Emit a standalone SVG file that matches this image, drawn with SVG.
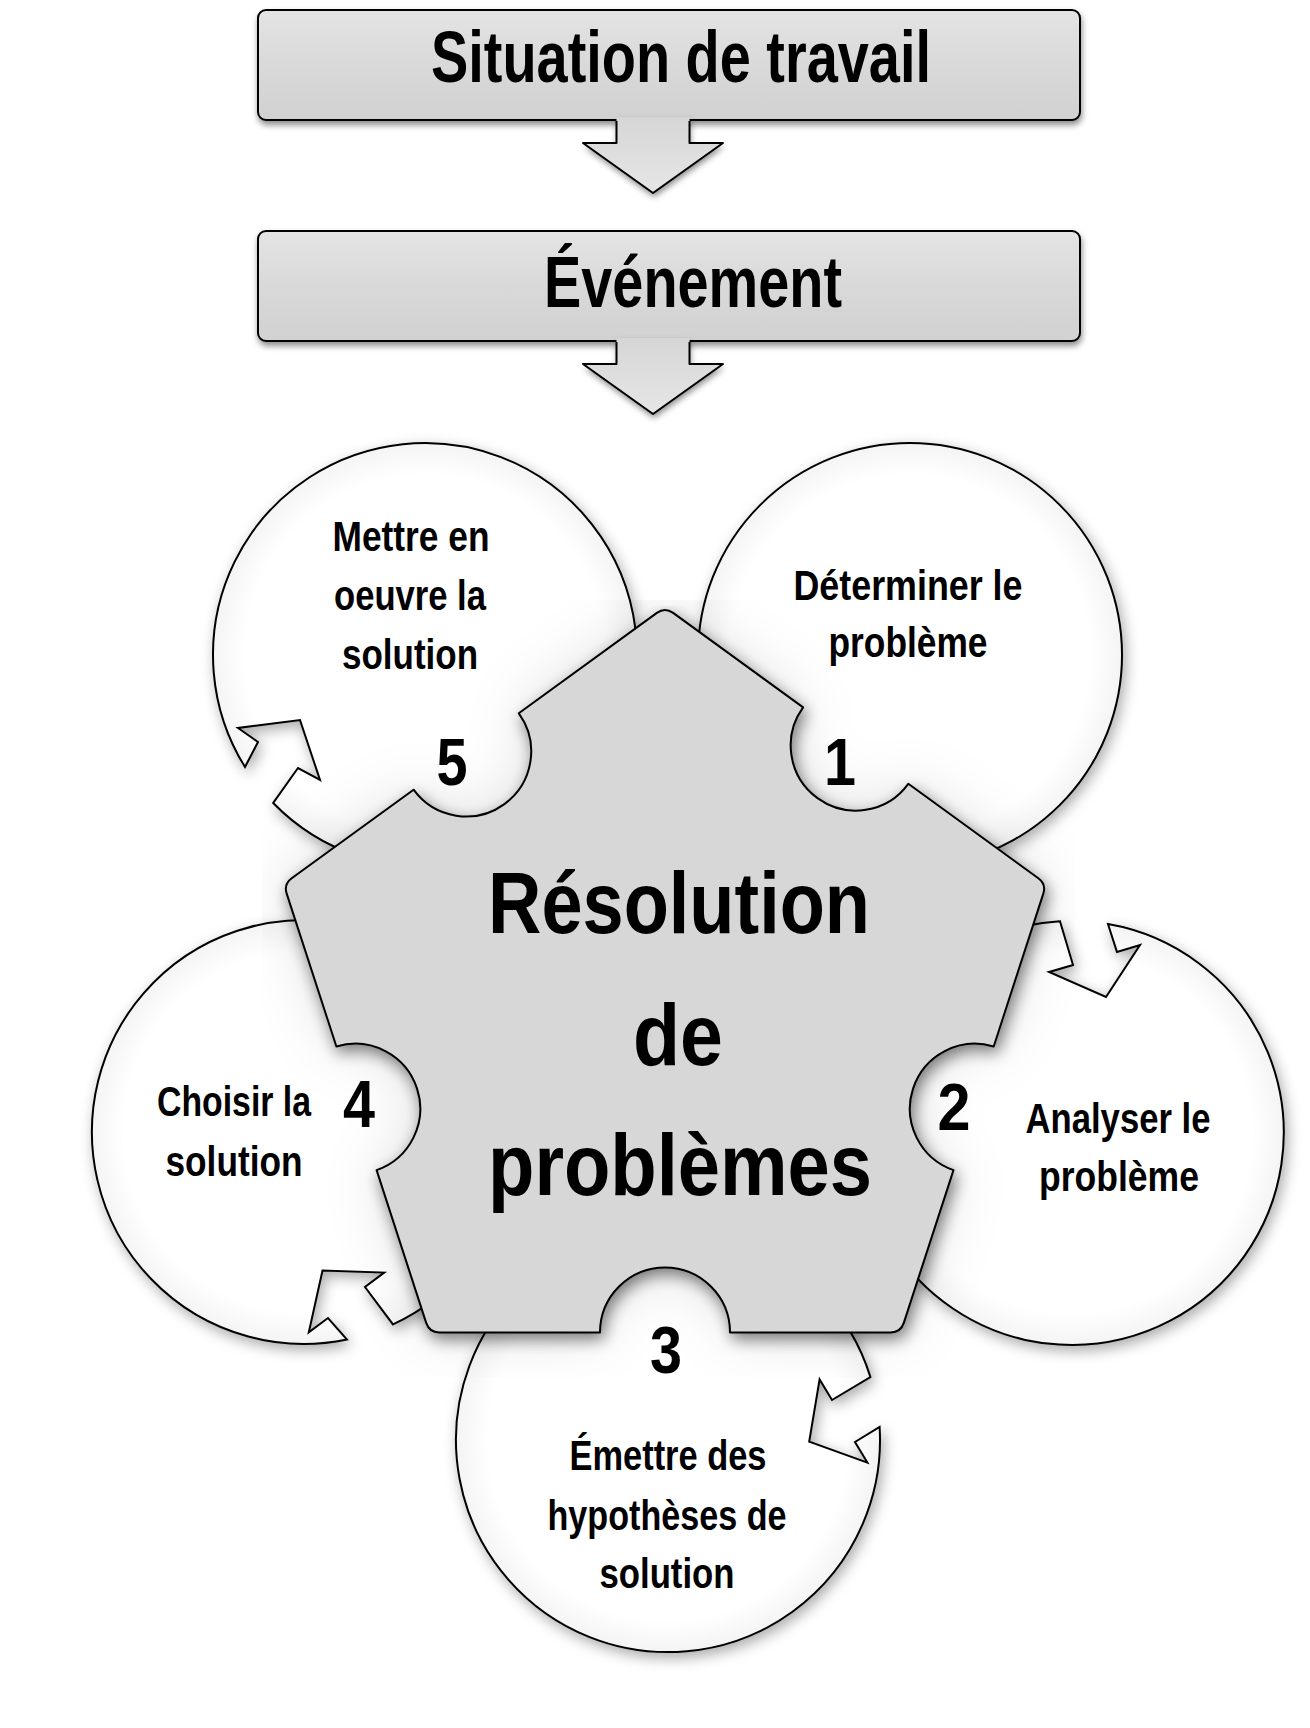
<svg xmlns="http://www.w3.org/2000/svg" width="1310" height="1728" viewBox="0 0 1310 1728">
<style>
.lbl{font-family:"Liberation Sans",Arial,sans-serif;font-weight:bold;fill:#000;text-anchor:middle}
.title{font-size:73px}
.main{font-size:88px}
.step{font-size:42px}
.num{font-size:66px}
.ol{stroke:#000;stroke-width:2;stroke-linejoin:round}
.disc{fill:url(#discGrad);stroke:#000;stroke-width:2;stroke-linejoin:miter}
</style>
<defs>
<linearGradient id="boxGrad" x1="0" y1="0" x2="0" y2="1">
<stop offset="0" stop-color="#e4e4e4"/>
<stop offset="0.5" stop-color="#d9d9d9"/>
<stop offset="1" stop-color="#d1d1d1"/>
</linearGradient>
<linearGradient id="arrGrad" x1="0" y1="0" x2="0" y2="1">
<stop offset="0" stop-color="#d6d6d6"/>
<stop offset="1" stop-color="#e6e6e6"/>
</linearGradient>
<radialGradient id="discGrad" cx="0.5" cy="0.5" r="0.5">
<stop offset="0.85" stop-color="#ffffff"/>
<stop offset="1" stop-color="#f4f4f4"/>
</radialGradient>
<filter id="boxShadow" x="-5%" y="-10%" width="110%" height="135%">
<feGaussianBlur in="SourceAlpha" stdDeviation="3"/>
<feOffset dx="1" dy="4" result="b"/>
<feFlood flood-color="#000" flood-opacity="0.45"/>
<feComposite in2="b" operator="in"/>
<feMerge><feMergeNode/><feMergeNode in="SourceGraphic"/></feMerge>
</filter>
<filter id="discShadow" x="-15%" y="-15%" width="130%" height="130%">
<feGaussianBlur in="SourceAlpha" stdDeviation="7"/>
<feOffset dx="3" dy="5" result="b"/>
<feFlood flood-color="#000" flood-opacity="0.33"/>
<feComposite in2="b" operator="in"/>
<feMerge><feMergeNode/><feMergeNode in="SourceGraphic"/></feMerge>
</filter>
<filter id="pentShadow" filterUnits="userSpaceOnUse" x="262" y="600" width="813" height="777">
<feGaussianBlur in="SourceAlpha" stdDeviation="8" result="b1"/>
<feOffset in="b1" dx="3" dy="6" result="o1"/>
<feFlood flood-color="#000" flood-opacity="0.5"/>
<feComposite in2="o1" operator="in" result="s1"/>
<feGaussianBlur in="SourceAlpha" stdDeviation="30" result="b2"/>
<feFlood flood-color="#000" flood-opacity="0.12"/>
<feComposite in2="b2" operator="in" result="s2"/>
<feMerge><feMergeNode in="s2"/><feMergeNode in="s1"/><feMergeNode in="SourceGraphic"/></feMerge>
</filter>
</defs>
<rect width="1310" height="1728" fill="#ffffff"/>

<g id="node-situation">
<rect x="258" y="10" width="822" height="110" rx="8" fill="url(#boxGrad)" class="ol" filter="url(#boxShadow)"/>
<text class="lbl title" x="681" y="82" textLength="500" lengthAdjust="spacingAndGlyphs">Situation de travail</text>
</g>
<g id="node-evenement">
<rect x="258" y="231" width="822" height="110" rx="8" fill="url(#boxGrad)" class="ol" filter="url(#boxShadow)"/>
<text class="lbl title" x="693" y="307" textLength="298" lengthAdjust="spacingAndGlyphs">Événement</text>
</g>

<g id="connectors">
<g id="arrow-1">
<path d="M616.5,117 V143 H583 L653,193 L723,143 H689.5 V117 Z" fill="url(#arrGrad)" filter="url(#boxShadow)"/>
<path d="M616.5,121 V143 H583 L653,193 L723,143 H689.5 V121" fill="none" class="ol"/>
</g>
<g id="arrow-2">
<path d="M616.5,338 V364 H583 L653,414 L723,364 H689.5 V338 Z" fill="url(#arrGrad)" filter="url(#boxShadow)"/>
<path d="M616.5,342 V364 H583 L653,414 L723,364 H689.5 V342" fill="none" class="ol"/>
</g>
</g>

<g id="step-1">
<circle cx="910" cy="655" r="212" class="disc" filter="url(#discShadow)"/>
<text class="lbl step" x="908" y="600" textLength="229" lengthAdjust="spacingAndGlyphs">Déterminer le</text>
<text class="lbl step" x="908" y="657" textLength="159" lengthAdjust="spacingAndGlyphs">problème</text>
<text class="lbl num" x="840" y="785" textLength="32" lengthAdjust="spacingAndGlyphs">1</text>
</g>
<g id="step-2">
<path d="M1108,924.1 A212,212 0 1 1 1060,921.3 L1073,965 L1049,972 L1106,997 L1140,945 L1117,952 Z" class="disc" filter="url(#discShadow)"/>
<text class="lbl step" x="1118" y="1133" textLength="185" lengthAdjust="spacingAndGlyphs">Analyser le</text>
<text class="lbl step" x="1119" y="1191" textLength="160" lengthAdjust="spacingAndGlyphs">problème</text>
<text class="lbl num" x="954" y="1130" textLength="33" lengthAdjust="spacingAndGlyphs">2</text>
</g>
<g id="step-3">
<path d="M879.6,1427 A212,212 0 1 1 870.4,1377 L832,1400 L819.6,1379.4 L809.2,1441.6 L867.4,1462.6 L855,1442 Z" class="disc" filter="url(#discShadow)"/>
<text class="lbl step" x="668" y="1470" textLength="197" lengthAdjust="spacingAndGlyphs">Émettre des</text>
<text class="lbl step" x="667" y="1530" textLength="239" lengthAdjust="spacingAndGlyphs">hypothèses de</text>
<text class="lbl step" x="667" y="1588" textLength="135" lengthAdjust="spacingAndGlyphs">solution</text>
<text class="lbl num" x="666" y="1373" textLength="32" lengthAdjust="spacingAndGlyphs">3</text>
</g>
<g id="step-4">
<path d="M347,1339.6 A212,212 0 1 1 393,1324.4 L365,1287 L384.2,1272.6 L322.5,1270.5 L308.8,1332.4 L328,1318 Z" class="disc" filter="url(#discShadow)"/>
<text class="lbl step" x="234" y="1116" textLength="154" lengthAdjust="spacingAndGlyphs">Choisir la</text>
<text class="lbl step" x="234" y="1176" textLength="137" lengthAdjust="spacingAndGlyphs">solution</text>
<text class="lbl num" x="359" y="1127" textLength="32" lengthAdjust="spacingAndGlyphs">4</text>
</g>
<g id="step-5">
<path d="M245,767 A212,212 0 1 1 273.2,803 L298,768 L320,780 L300,720 L238,728 L258,742 Z" class="disc" filter="url(#discShadow)"/>
<text class="lbl step" x="411" y="551" textLength="157" lengthAdjust="spacingAndGlyphs">Mettre en</text>
<text class="lbl step" x="410" y="610" textLength="152" lengthAdjust="spacingAndGlyphs">oeuvre la</text>
<text class="lbl step" x="410" y="669" textLength="136" lengthAdjust="spacingAndGlyphs">solution</text>
<text class="lbl num" x="452" y="785" textLength="31" lengthAdjust="spacingAndGlyphs">5</text>
</g>

<g id="center-resolution">
<path d="M673.1,612.9 L803.1,707.4 A65,65 0 0 0 908.3,783.8 L1038.3,878.2 Q1046.4,884.1 1043.3,893.6 L993.7,1046.5 A65,65 0 0 0 953.5,1170.1 L903.8,1322.9 Q900.7,1332.4 890.7,1332.4 L730,1332.4 A65,65 0 0 0 600,1332.4 L439.3,1332.4 Q429.3,1332.4 426.2,1322.9 L376.6,1170.1 A65,65 0 0 0 336.4,1046.5 L286.7,893.6 Q283.6,884.1 291.7,878.2 L413.6,789.7 A65,65 0 0 0 518.8,713.3 L656.9,612.9 Q665,607 673.1,612.9 Z" fill="#d7d7d7" class="ol" filter="url(#pentShadow)"/>
<text class="lbl main" x="679" y="933" textLength="382" lengthAdjust="spacingAndGlyphs">Résolution</text>
<text class="lbl main" x="678" y="1065" textLength="90" lengthAdjust="spacingAndGlyphs">de</text>
<text class="lbl main" x="680" y="1195" textLength="384" lengthAdjust="spacingAndGlyphs">problèmes</text>
</g>
</svg>
